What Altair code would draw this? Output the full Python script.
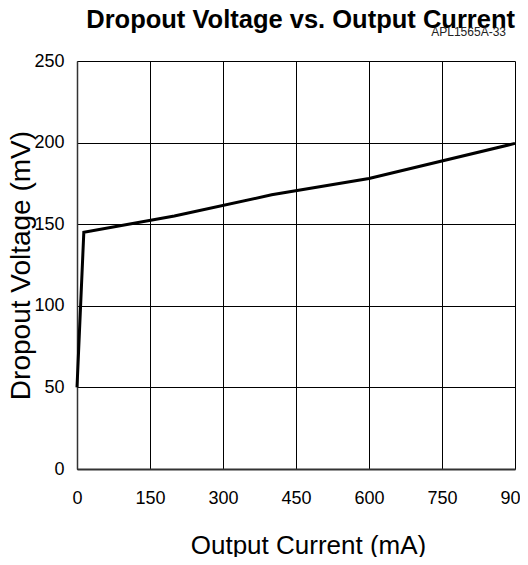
import altair as alt
import pandas as pd

# data
current = [0, 14, 200, 400, 600, 900]
voltage = [50, 145, 155, 168, 178, 199.5]
x_ticks = [0, 150, 300, 450, 600, 750, 900]
y_ticks = [0, 50, 100, 150, 200, 250]
chart_title = ["Dropout Voltage vs. Output Current"]
note = ["APL1565A-33"]

FONT = "Liberation Sans"
W, H = 438, 408

df = pd.DataFrame({"current": current, "voltage": voltage})

x_enc = alt.X(
    "current:Q",
    scale=alt.Scale(domain=[0, 900], nice=False, zero=False),
    axis=alt.Axis(
        values=x_ticks, title="Output Current (mA)", ticks=False, labelFlush=False,
        labelPadding=20, labelFontSize=18, labelFont=FONT, labelColor="black",
        titleFont=FONT, titleFontSize=26, titleFontWeight="normal", titleColor="black",
        titleBaseline="alphabetic", titleY=84, titleX=231,
        grid=True, gridColor="black", gridWidth=1, gridOpacity=1,
        domainColor="#333", domainWidth=2,
    ),
)
y_enc = alt.Y(
    "voltage:Q",
    scale=alt.Scale(domain=[0, 250], nice=False),
    axis=alt.Axis(
        values=y_ticks, title="Dropout Voltage (mV)", ticks=False, labelFlush=False,
        labelPadding=13, labelFontSize=18, labelFont=FONT, labelColor="black",
        titleFont=FONT, titleFontSize=28, titleFontWeight="normal", titleColor="black",
        titleBaseline="alphabetic", titleX=-48,
        grid=True, gridColor="black", gridWidth=1, gridOpacity=1,
        domainColor="#333", domainWidth=1.5,
    ),
)

line = alt.Chart(df).mark_line(color="black", strokeWidth=3).encode(x=x_enc, y=y_enc)

title_mark = alt.Chart(pd.DataFrame({"t": chart_title})).mark_text(
    align="right", baseline="alphabetic", fontSize=25.5, fontWeight="bold",
    font=FONT, color="black",
).encode(text="t:N", x=alt.value(W), y=alt.value(-33))

note_mark = alt.Chart(pd.DataFrame({"t": note})).mark_text(
    align="right", baseline="alphabetic", fontSize=12, font=FONT, color="#222",
).encode(text="t:N", x=alt.value(429), y=alt.value(-25))

chart = (
    alt.layer(line, title_mark, note_mark)
    .properties(
        width=W, height=H,
        autosize=alt.AutoSizeParams(type="none"),
        padding={"left": 69, "top": 53, "right": 5, "bottom": 88},
        background="white",
    )
    .configure_view(stroke="transparent")
)

chart.save("out.html", embed_options={"renderer": "svg", "actions": False})
